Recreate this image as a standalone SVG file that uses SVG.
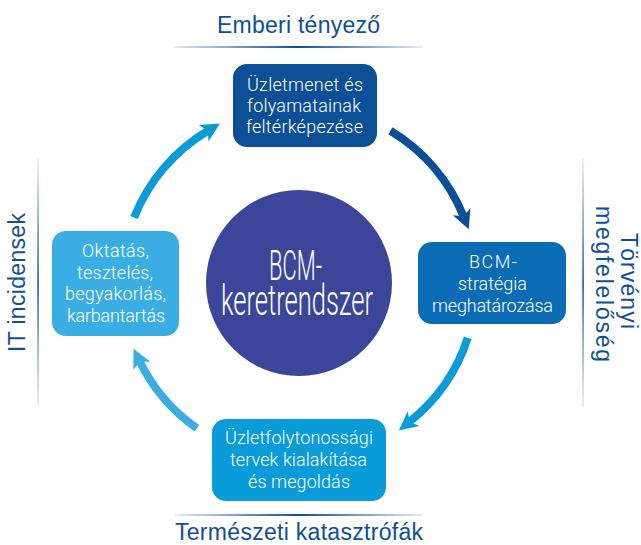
<svg xmlns="http://www.w3.org/2000/svg" width="641" height="545" viewBox="0 0 641 545">
<style>
.title{font-family:"Liberation Sans",Arial,sans-serif;font-size:23px;fill:#0f4f95}
.bx{font-family:Roboto,"Liberation Sans",Arial,sans-serif;font-weight:300;font-size:18px;fill:#ffffff;text-anchor:middle}
.ctr{font-family:Roboto,"Liberation Sans",Arial,sans-serif;font-weight:300;font-size:42px;fill:#ffffff}
.shaft{fill:none;stroke-width:8;stroke-linecap:butt}
</style>
<defs>
<linearGradient id="gh" x1="0" y1="0" x2="1" y2="0">
<stop offset="0" stop-color="#0f4f95" stop-opacity="0.1"/>
<stop offset="0.5" stop-color="#0f4f95" stop-opacity="1"/>
<stop offset="1" stop-color="#0f4f95" stop-opacity="0.1"/>
</linearGradient>
<linearGradient id="gv" x1="0" y1="0" x2="0" y2="1">
<stop offset="0" stop-color="#0f4f95" stop-opacity="0.1"/>
<stop offset="0.5" stop-color="#0f4f95" stop-opacity="1"/>
<stop offset="1" stop-color="#0f4f95" stop-opacity="0.1"/>
</linearGradient>
<marker id="hdDark" markerUnits="userSpaceOnUse" markerWidth="24" markerHeight="24" viewBox="0 -12 24 24" refX="5" refY="0" orient="auto"><path d="M0,-9.5 L19,0 L0,9.5 L5,0 Z" fill="#0b4f96"/></marker>
<marker id="hdCyan" markerUnits="userSpaceOnUse" markerWidth="24" markerHeight="24" viewBox="0 -12 24 24" refX="5" refY="0" orient="auto"><path d="M0,-9.5 L19,0 L0,9.5 L5,0 Z" fill="#0a9bd9"/></marker>
<marker id="hdLight" markerUnits="userSpaceOnUse" markerWidth="24" markerHeight="24" viewBox="0 -12 24 24" refX="5" refY="0" orient="auto"><path d="M0,-9.5 L19,0 L0,9.5 L5,0 Z" fill="#3aaee3"/></marker>
</defs>

<g id="labels">
<text class="title" x="298.5" y="33" text-anchor="middle" textLength="163">Emberi tényező</text>
<rect x="173" y="46" width="250" height="2" fill="url(#gh)"/>
<rect x="175" y="514" width="248" height="2" fill="url(#gh)"/>
<text class="title" x="299" y="540" text-anchor="middle" textLength="248">Természeti katasztrófák</text>
<rect x="37.3" y="158" width="1.5" height="249" fill="url(#gv)"/>
<text class="title" transform="translate(25,282.5) rotate(-90)" text-anchor="middle" textLength="139">IT incidensek</text>
<rect x="582.3" y="158" width="1.5" height="249" fill="url(#gv)"/>
<text class="title" transform="translate(621,281) rotate(90)" text-anchor="middle" textLength="96">Törvényi</text>
<text class="title" transform="translate(596,284) rotate(90)" text-anchor="middle" textLength="156">megfelelőség</text>
</g>

<g id="connectors">
<path class="shaft" stroke="#0b4f96" d="M390.4,130.8 A177.5,177.5 0 0 1 463.5,216.2" marker-end="url(#hdDark)"/>
<path class="shaft" stroke="#0a9bd9" d="M467.8,337.8 A177.5,177.5 0 0 1 409.7,421.7" marker-end="url(#hdCyan)"/>
<path class="shaft" stroke="#3aaee3" d="M196.9,428.2 A177.5,177.5 0 0 1 139.7,361.4" marker-end="url(#hdLight)"/>
<path class="shaft" stroke="#0a9bd9" d="M134.1,217.4 A177.5,177.5 0 0 1 207.9,130.7" marker-end="url(#hdCyan)"/>
</g>

<g id="center">
<circle cx="299" cy="283" r="93" fill="#3b469a"/>
<text class="ctr" x="269" y="280" textLength="53" lengthAdjust="spacingAndGlyphs">BCM-</text>
<text class="ctr" x="221" y="315" textLength="152" lengthAdjust="spacingAndGlyphs">keretrendszer</text>
</g>

<g id="node-top">
<rect x="233" y="64" width="144" height="83" rx="14" fill="#0b4f96"/>
<text class="bx" x="305" y="91" textLength="116">Üzletmenet és</text>
<text class="bx" x="304" y="112" textLength="114">folyamatainak</text>
<text class="bx" x="304.5" y="133" textLength="117">feltérképezése</text>
</g>

<g id="node-right">
<rect x="418" y="242" width="148" height="82" rx="14" fill="#0a6cb5"/>
<text class="bx" x="493" y="268" textLength="48">BCM-</text>
<text class="bx" x="492.5" y="290" textLength="69">stratégia</text>
<text class="bx" x="492.5" y="312" textLength="121">meghatározása</text>
</g>

<g id="node-bottom">
<rect x="212" y="419" width="174" height="82" rx="14" fill="#0a9bd9"/>
<text class="bx" x="299" y="444" textLength="148">Üzletfolytonossági</text>
<text class="bx" x="298.5" y="466" textLength="137">tervek kialakítása</text>
<text class="bx" x="299" y="488" textLength="102">és megoldás</text>
</g>

<g id="node-left">
<rect x="52" y="231" width="127" height="105" rx="14" fill="#3aaee3"/>
<text class="bx" x="115.5" y="257" textLength="67">Oktatás,</text>
<text class="bx" x="115" y="279" textLength="76">tesztelés,</text>
<text class="bx" x="115.5" y="300" textLength="101">begyakorlás,</text>
<text class="bx" x="116" y="322" textLength="98">karbantartás</text>
</g>
</svg>
